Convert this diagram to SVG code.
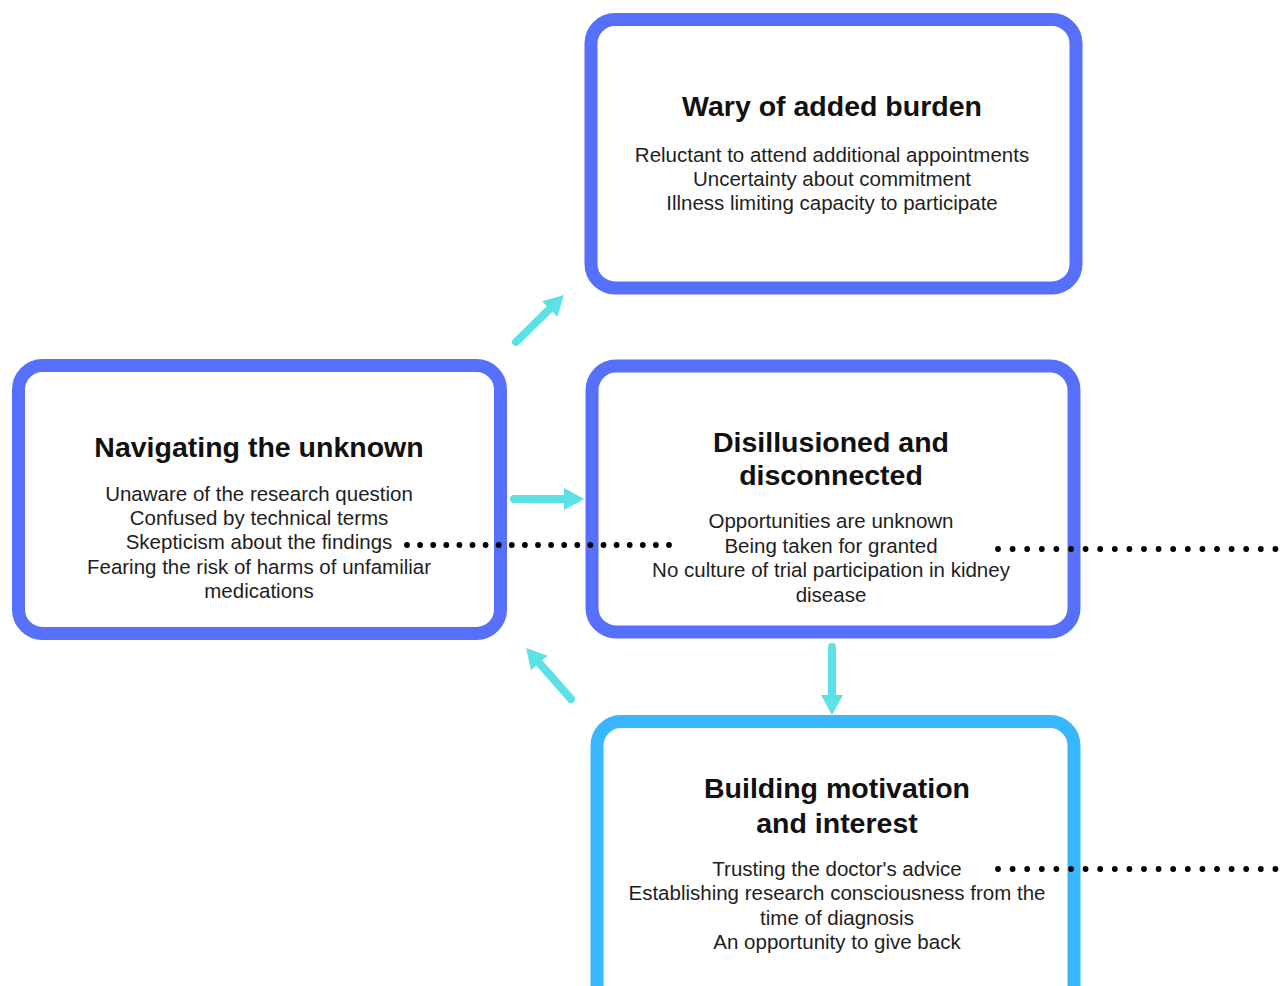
<svg xmlns="http://www.w3.org/2000/svg" width="1284" height="986" viewBox="0 0 1284 986">
<defs>
<style>
.box{fill:#fff;stroke:#5670fb;stroke-width:13}
.box2{fill:#fff;stroke:#38b6ff;stroke-width:13}
.t{font-family:"Liberation Sans",Arial,sans-serif;font-weight:bold;font-size:28.5px;fill:#111;text-anchor:middle}
.b{font-family:"Liberation Sans",Arial,sans-serif;font-size:20.5px;fill:#1e1e1e;text-anchor:middle}
.arr{stroke:#5ce1e6;stroke-width:8;stroke-linecap:round;fill:none;marker-end:url(#ah)}
.dot{stroke:#000;stroke-width:5.8;stroke-linecap:round;fill:none}
</style>
<marker id="ah" markerWidth="22" markerHeight="22" refX="8" refY="11" orient="auto" markerUnits="userSpaceOnUse">
<path d="M0,0 L20,11 L0,22 Z" fill="#5ce1e6"/>
</marker>
</defs>
<rect width="1284" height="986" fill="#fff"/>

<g id="wary">
<rect class="box" x="591" y="19.5" width="485" height="268.5" rx="24"/>
<text class="t" x="832" y="116">Wary of added burden</text>
<text class="b" x="832" y="162">Reluctant to attend additional appointments</text>
<text class="b" x="832" y="186">Uncertainty about commitment</text>
<text class="b" x="832" y="210">Illness limiting capacity to participate</text>
</g>

<g id="navigating">
<rect class="box" x="18.5" y="365.5" width="482" height="268" rx="24"/>
<text class="t" x="259" y="457">Navigating the unknown</text>
<text class="b" x="259" y="501">Unaware of the research question</text>
<text class="b" x="259" y="525">Confused by technical terms</text>
<text class="b" x="259" y="549">Skepticism about the findings</text>
<text class="b" x="259" y="574">Fearing the risk of harms of unfamiliar</text>
<text class="b" x="259" y="598">medications</text>
</g>

<g id="disillusioned">
<rect class="box" x="592" y="366" width="482" height="266" rx="24"/>
<text class="t" x="831" y="452">Disillusioned and</text>
<text class="t" x="831" y="485">disconnected</text>
<text class="b" x="831" y="528">Opportunities are unknown</text>
<text class="b" x="831" y="553">Being taken for granted</text>
<text class="b" x="831" y="577">No culture of trial participation in kidney</text>
<text class="b" x="831" y="602">disease</text>
</g>

<g id="building">
<rect class="box2" x="597" y="721.5" width="477" height="290" rx="24"/>
<text class="t" x="837" y="798">Building motivation</text>
<text class="t" x="837" y="833">and interest</text>
<text class="b" x="837" y="876">Trusting the doctor's advice</text>
<text class="b" x="837" y="900">Establishing research consciousness from the</text>
<text class="b" x="837" y="925">time of diagnosis</text>
<text class="b" x="837" y="949">An opportunity to give back</text>
</g>

<g id="connectors">
<line class="arr" x1="516" y1="342" x2="555.4" y2="303.4"/>
<line class="arr" x1="514" y1="499" x2="572" y2="499"/>
<line class="arr" x1="832" y1="647" x2="832" y2="703"/>
<line class="arr" x1="571" y1="699" x2="534" y2="657"/>
<line class="dot" x1="407" y1="545" x2="671" y2="545" stroke-dasharray="0 13.1"/>
<line class="dot" x1="998" y1="549" x2="1290" y2="549" stroke-dasharray="0 14.6"/>
<line class="dot" x1="998" y1="869" x2="1290" y2="869" stroke-dasharray="0 14.6"/>
</g>
</svg>
